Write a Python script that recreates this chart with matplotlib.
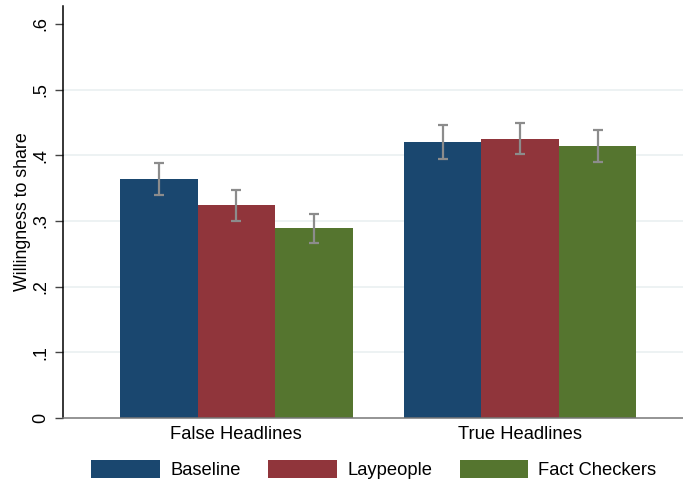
import matplotlib
matplotlib.use("Agg")
import matplotlib.pyplot as plt
from matplotlib.patches import Patch
import numpy as np

plt.rcParams['font.family'] = ['Liberation Sans', 'DejaVu Sans']

# headline groups and treatment arms
groups = ['False Headlines', 'True Headlines']
arms = ['Baseline', 'Laypeople', 'Fact Checkers']
colors = ['#1a476f', '#90353b', '#55752f']

# mean willingness to share, one list per arm (False, True)
baseline = [0.364, 0.420]
laypeople = [0.324, 0.425]
fact_checkers = [0.289, 0.414]

# 95% CI half-widths
baseline_ci = [0.0245, 0.0255]
laypeople_ci = [0.0235, 0.0235]
fact_checkers_ci = [0.022, 0.024]

means = [baseline, laypeople, fact_checkers]
cis = [baseline_ci, laypeople_ci, fact_checkers_ci]

fig = plt.figure(figsize=(6.83, 4.84), dpi=100)
ax = fig.add_axes([63 / 683, 66 / 484, 620 / 683, 412 / 484])

group_pos = np.array([0.0, 3.665])
for i, arm in enumerate(arms):
    x = group_pos + i
    ax.bar(x, means[i], width=1.0, color=colors[i], zorder=2)
    ax.errorbar(x, means[i], yerr=cis[i], fmt='none', ecolor='#8c8c8c',
                elinewidth=1.6, capsize=3.3, capthick=1.6, zorder=3)

ax.set_xlim(-1.2385, 6.767)
ax.set_ylim(0, 0.6274)

yt = [0, 0.1, 0.2, 0.3, 0.4, 0.5, 0.6]
ax.set_yticks(yt)
ax.set_yticklabels(['0', '.1', '.2', '.3', '.4', '.5', '.6'],
                   rotation=90, va='center', fontsize=13)
for v in yt[1:-1]:
    ax.axhline(v, color='#eaf0f1', lw=1.2, zorder=1)

ax.set_xticks(group_pos + 1)
ax.set_xticklabels(groups, fontsize=13.2)
ax.tick_params(axis='x', length=0, pad=5.5)
ax.tick_params(axis='y', length=6, width=1, color='#444444', pad=4)

ax.set_ylabel('Willingness to share', fontsize=12.8, labelpad=1)

ax.spines['top'].set_visible(False)
ax.spines['right'].set_visible(False)
ax.spines['left'].set_color('black')
ax.spines['left'].set_linewidth(1.1)
ax.spines['bottom'].set_color('#777777')
ax.spines['bottom'].set_linewidth(1.1)

handles = [Patch(facecolor=c, edgecolor='none') for c in colors]
fig.legend(handles, arms, loc='center', bbox_to_anchor=(0.5475, 0.029),
           ncol=3, frameon=False, fontsize=13.2, handlelength=3.75,
           handleheight=1.1, handletextpad=0.55, columnspacing=1.5,
           borderaxespad=0, borderpad=0)

fig.savefig('out.png', dpi=100)
